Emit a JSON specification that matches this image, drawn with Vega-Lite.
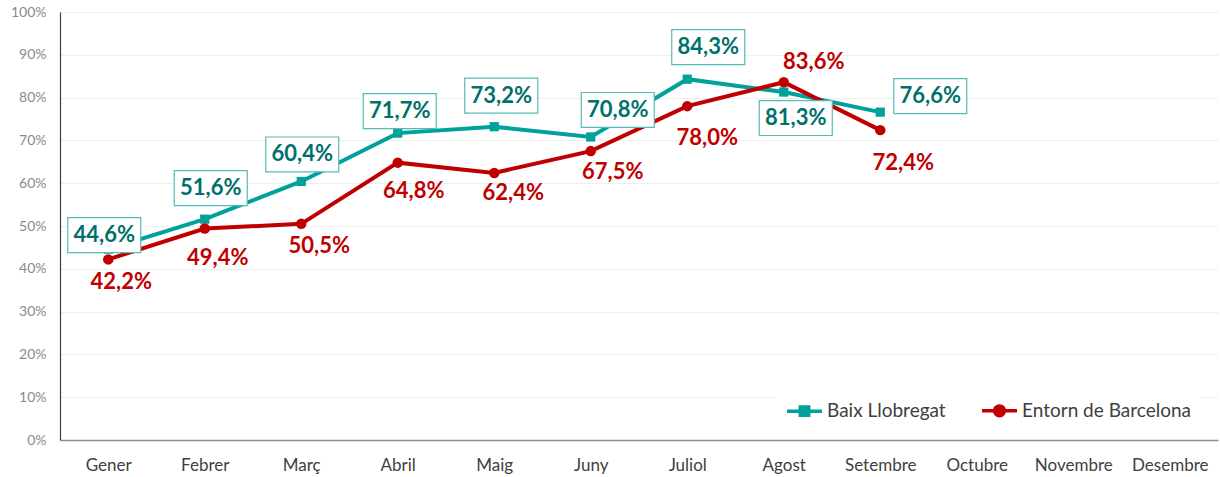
{
  "$schema": "https://vega.github.io/schema/vega-lite/v6.json",
  "width": 1158,
  "height": 428,
  "autosize": {"type": "none"},
  "padding": {"left": 60, "top": 12, "right": 2, "bottom": 37},
  "background": "white",
  "config": {
    "locale": {"number": {"decimal": ",", "thousands": ".", "grouping": [3], "currency": ["", " €"]}},
    "view": {"stroke": null},
    "font": "Lato"
  },
  "data": {
    "values": [
      {"month": "Gener", "series": "Baix Llobregat", "value": 0.446},
      {"month": "Febrer", "series": "Baix Llobregat", "value": 0.516},
      {"month": "Març", "series": "Baix Llobregat", "value": 0.604},
      {"month": "Abril", "series": "Baix Llobregat", "value": 0.717},
      {"month": "Maig", "series": "Baix Llobregat", "value": 0.732},
      {"month": "Juny", "series": "Baix Llobregat", "value": 0.708},
      {"month": "Juliol", "series": "Baix Llobregat", "value": 0.843},
      {"month": "Agost", "series": "Baix Llobregat", "value": 0.813},
      {"month": "Setembre", "series": "Baix Llobregat", "value": 0.766},
      {"month": "Gener", "series": "Entorn de Barcelona", "value": 0.422},
      {"month": "Febrer", "series": "Entorn de Barcelona", "value": 0.494},
      {"month": "Març", "series": "Entorn de Barcelona", "value": 0.505},
      {"month": "Abril", "series": "Entorn de Barcelona", "value": 0.648},
      {"month": "Maig", "series": "Entorn de Barcelona", "value": 0.624},
      {"month": "Juny", "series": "Entorn de Barcelona", "value": 0.675},
      {"month": "Juliol", "series": "Entorn de Barcelona", "value": 0.780},
      {"month": "Agost", "series": "Entorn de Barcelona", "value": 0.836},
      {"month": "Setembre", "series": "Entorn de Barcelona", "value": 0.724}
    ]
  },
  "encoding": {
    "x": {
      "field": "month",
      "type": "nominal",
      "sort": null,
      "scale": {
        "domain": ["Gener", "Febrer", "Març", "Abril", "Maig", "Juny", "Juliol", "Agost", "Setembre", "Octubre", "Novembre", "Desembre"],
        "paddingInner": 0,
        "paddingOuter": 0
      },
      "axis": {
        "title": null,
        "labelAngle": 0,
        "ticks": false,
        "domainColor": "#8c8c8c",
        "domainWidth": 1.5,
        "labelColor": "#404040",
        "labelFontSize": 17,
        "labelPadding": 17,
        "grid": false
      }
    },
    "y": {
      "field": "value",
      "type": "quantitative",
      "scale": {"domain": [0, 1], "nice": false},
      "axis": {
        "title": null,
        "format": ".0%",
        "values": [0, 0.1, 0.2, 0.3, 0.4, 0.5, 0.6, 0.7, 0.8, 0.9, 1],
        "grid": true,
        "gridColor": "#eeeeee",
        "gridWidth": 1,
        "ticks": false,
        "domain": true,
        "domainColor": "#404040",
        "domainWidth": 1.2,
        "labelColor": "#8a8a8a",
        "labelFontSize": 14,
        "labelPadding": 14
      }
    }
  },
  "layer": [
    {
      "mark": {"type": "line", "strokeWidth": 4},
      "encoding": {
        "color": {
          "field": "series",
          "type": "nominal",
          "scale": {"domain": ["Baix Llobregat", "Entorn de Barcelona"], "range": ["#00A19A", "#C00000"]},
          "legend": {
            "title": null,
            "orient": "none",
            "legendX": 715,
            "legendY": 369,
            "direction": "horizontal",
            "symbolSize": 1225,
            "symbolStrokeWidth": 3.5,
            "labelFontSize": 19,
            "labelColor": "#404040",
            "labelOffset": 3,
            "labelLimit": 400,
            "columnPadding": 29,
            "fillColor": "white",
            "padding": 10,
            "encode": {
              "symbols": {
                "update": {
                  "shape": {"signal": "datum.value == 'Baix Llobregat' ? 'M-1,0H1M-0.24,-0.24H0.24V0.24H-0.24Z' : 'M-1,0H1M0.28,0A0.28,0.28,0,1,1,-0.28,0A0.28,0.28,0,1,1,0.28,0Z'"},
                  "fill": {"signal": "datum.value == 'Baix Llobregat' ? '#00A19A' : '#C00000'"},
                  "stroke": {"signal": "datum.value == 'Baix Llobregat' ? '#00A19A' : '#C00000'"},
                  "fillOpacity": {"value": 1},
                  "strokeWidth": {"value": 3.5}
                }
              }
            }
          }
        }
      }
    },
    {
      "transform": [{"filter": "datum.series == 'Baix Llobregat'"}],
      "mark": {"type": "point", "shape": "square", "filled": true, "opacity": 1, "size": 85, "color": "#00A19A"}
    },
    {
      "transform": [{"filter": "datum.series == 'Entorn de Barcelona'"}],
      "mark": {"type": "point", "shape": "circle", "filled": true, "opacity": 1, "size": 110, "color": "#C00000"}
    },
    {
      "transform": [{"filter": "datum.series == 'Baix Llobregat'"}],
      "mark": {
        "type": "point",
        "shape": "M-1,-0.479H1V0.479H-1Z",
        "size": 5329,
        "filled": true,
        "fill": "white",
        "fillOpacity": 1,
        "opacity": 1,
        "stroke": "#55BBB6",
        "strokeOpacity": 1,
        "strokeWidth": 1.2,
        "xOffset": {"expr": "[-4,6,1,2,7,27,21,12,50][indexof(['Gener','Febrer','Març','Abril','Maig','Juny','Juliol','Agost','Setembre'], datum.month)]"},
        "yOffset": {"expr": "[-14,-31,-27,-22,-31,-27,-32,26,-16][indexof(['Gener','Febrer','Març','Abril','Maig','Juny','Juliol','Agost','Setembre'], datum.month)]"}
      }
    },
    {
      "transform": [{"filter": "datum.series == 'Baix Llobregat'"}],
      "mark": {
        "type": "text",
        "fontSize": 22,
        "fontWeight": "bold",
        "color": "#00706B",
        "baseline": "middle",
        "align": "center",
        "xOffset": {"expr": "[-4,6,1,2,7,27,21,12,50][indexof(['Gener','Febrer','Març','Abril','Maig','Juny','Juliol','Agost','Setembre'], datum.month)]"},
        "yOffset": {"expr": "[-14,-31,-27,-22,-31,-27,-32,26,-16][indexof(['Gener','Febrer','Març','Abril','Maig','Juny','Juliol','Agost','Setembre'], datum.month)]"}
      },
      "encoding": {"text": {"field": "value", "type": "quantitative", "format": ".1%"}}
    },
    {
      "transform": [{"filter": "datum.series == 'Entorn de Barcelona'"}],
      "mark": {
        "type": "text",
        "fontSize": 22,
        "fontWeight": "bold",
        "color": "#C00000",
        "baseline": "middle",
        "align": "center",
        "xOffset": {"expr": "[13,13,18,16,19,22,20,30,23][indexof(['Gener','Febrer','Març','Abril','Maig','Juny','Juliol','Agost','Setembre'], datum.month)]"},
        "yOffset": {"expr": "[23,29,22,28,20,21,32,-20,33][indexof(['Gener','Febrer','Març','Abril','Maig','Juny','Juliol','Agost','Setembre'], datum.month)]"}
      },
      "encoding": {"text": {"field": "value", "type": "quantitative", "format": ".1%"}}
    }
  ]
}
